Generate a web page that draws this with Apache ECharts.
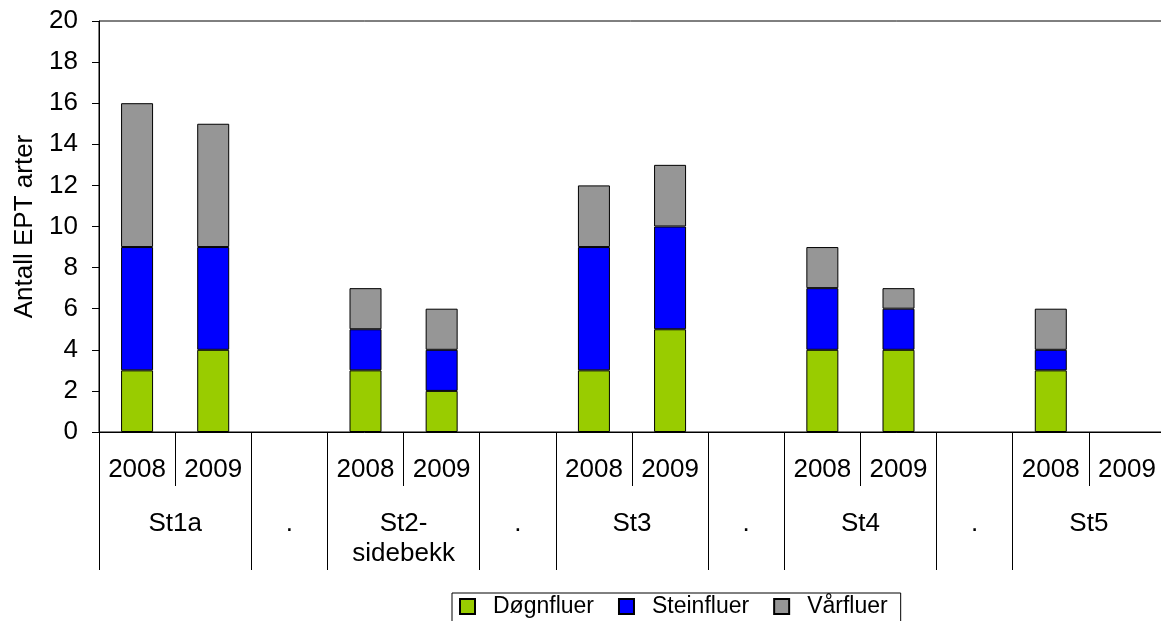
<!DOCTYPE html>
<html>
<head>
<meta charset="utf-8">
<script src="https://cdn.jsdelivr.net/npm/echarts@6/dist/echarts.min.js"></script>
<style>html,body{margin:0;padding:0;background:#fff}#c{width:1161px;height:621px}</style>
</head>
<body>
<div id="c"></div>
<script>
// Category slots (year labels); '' marks the "." gap slots
const years = ['2008','2009','','2008','2009','','2008','2009','','2008','2009','','2008','2009'];
// Group labels and how many slots each spans
const groupLabels = ['St1a','.','St2-\nsidebekk','.','St3','.','St4','.','St5'];
const groupSpans = [2,1,2,1,2,1,2,1,2];
// Series values (null = empty slot)
const dogn  = [3,4,null,3,2,null,3,5,null,4,4,null,3,null];
const stein = [6,5,null,2,2,null,6,5,null,3,2,null,1,null];
const vaar  = [7,6,null,2,2,null,3,3,null,2,1,null,2,null];
const seriesNames = ['Døgnfluer','Steinfluer','Vårfluer'];
const yTicks = {min:0, max:20, interval:2};
const yName = 'Antall EPT arter';

// derived: group centres and boundaries
const centers = {}; const bounds = [];
let acc = 0;
groupSpans.forEach((s,i)=>{ bounds.push(acc); centers[(acc + s/2).toFixed(1)] = groupLabels[i]; acc += s; });

const FONT = "'Liberation Sans', Arial, sans-serif";
const chart = echarts.init(document.getElementById('c'), null, {renderer:'canvas'});
chart.setOption({
  animation:false,
  backgroundColor:'#fff',
  textStyle:{fontFamily:FONT, color:'#000'},
  grid:{left:99, top:21, width:1066, height:411, show:true, borderColor:'#000', borderWidth:1,
        backgroundColor:'transparent', outerBoundsMode:'none', containLabel:false},
  legend:{
    left:452, top:593, padding:[2,13,4,7], itemWidth:15, itemHeight:15, itemGap:24,
    borderColor:'#000', borderWidth:1, icon:'rect',
    textStyle:{fontSize:23, color:'#000', fontFamily:FONT, padding:[0,0,0,13]},
    data:seriesNames
  },
  xAxis:[
    {type:'category', data:years, position:'bottom',
     axisLine:{show:true, lineStyle:{color:'#000', width:1}},
     axisTick:{show:true, interval:0, length:54, lineStyle:{color:'#000'}},
     axisLabel:{interval:0, fontSize:26, color:'#000', margin:25, fontFamily:FONT},
     splitLine:{show:false}},
    {type:'value', min:0, max:years.length, interval:0.5, position:'bottom',
     axisLine:{show:false}, axisTick:{show:false}, splitLine:{show:false},
     axisLabel:{show:true, fontSize:26, color:'#000', margin:77, lineHeight:30, verticalAlign:'top', align:'center', fontFamily:FONT,
       showMinLabel:true, showMaxLabel:true,
       formatter:v=> centers[Number(v).toFixed(1)] || ''}},
    {type:'category', data:years, position:'bottom',
     axisLine:{show:false}, axisLabel:{show:false}, splitLine:{show:false},
     axisTick:{show:true, length:138, lineStyle:{color:'#000'}, interval:(idx)=>bounds.includes(idx)}}
  ],
  yAxis:{
    type:'value', min:yTicks.min, max:yTicks.max, interval:yTicks.interval,
    name:yName, nameLocation:'middle', nameGap:61, nameRotate:90,
    nameTextStyle:{fontSize:26, color:'#000', fontFamily:FONT},
    axisLine:{show:true, lineStyle:{color:'#000'}},
    axisTick:{show:true, length:7, lineStyle:{color:'#000'}},
    splitLine:{show:false},
    axisLabel:{fontSize:26, color:'#000', margin:21, fontFamily:FONT}
  },
  series:[
    {name:seriesNames[0], type:'bar', stack:'a', data:dogn, barWidth:32, xAxisIndex:0,
     itemStyle:{color:'#99CC00', borderColor:'#000', borderWidth:1}},
    {name:seriesNames[1], type:'bar', stack:'a', data:stein, barWidth:32, xAxisIndex:0,
     itemStyle:{color:'#0000FF', borderColor:'#000', borderWidth:1}},
    {name:seriesNames[2], type:'bar', stack:'a', data:vaar, barWidth:32, xAxisIndex:0,
     itemStyle:{color:'#969696', borderColor:'#000', borderWidth:1}}
  ]
});
</script>
</body>
</html>
